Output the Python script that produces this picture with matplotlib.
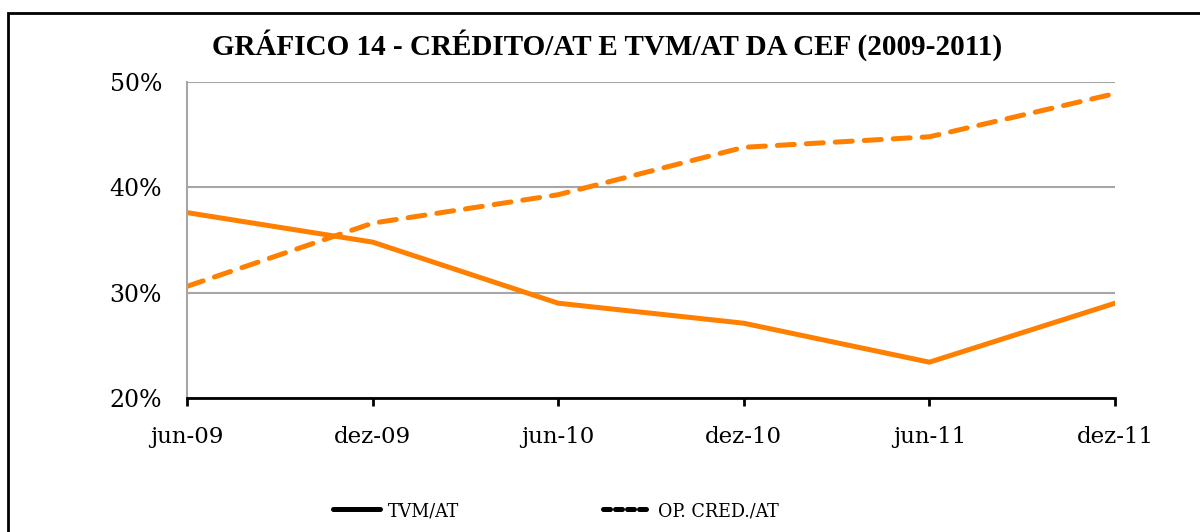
import matplotlib.pyplot as plt
from matplotlib.patches import Rectangle

periods = ["jun-09", "dez-09", "jun-10", "dez-10", "jun-11", "dez-11"]
tvm_at = [37.6, 34.8, 29.0, 27.1, 23.4, 29.0]
op_cred_at = [30.6, 36.6, 39.3, 43.8, 44.8, 48.9]
y_ticks = [20, 30, 40, 50]

ORANGE = "#ff8000"


def main():
  fig = plt.figure(figsize=(12, 5.32), dpi=100)
  ax = fig.add_axes([187 / 1200, 1 - 398 / 532, 928 / 1200, 316 / 532])

  x = list(range(len(periods)))
  ax.plot(x, tvm_at, color=ORANGE, lw=3.6, solid_capstyle="round", label="TVM/AT")
  ax.plot(x, op_cred_at, color=ORANGE, lw=3.6, ls=(0, (3.4, 2.4)),
          dash_capstyle="round", label="OP. CRED./AT")

  ax.set_xlim(0, len(periods) - 1)
  ax.set_ylim(20, 50)
  ax.set_yticks(y_ticks)
  ax.set_yticklabels([f"{v}%" for v in y_ticks])
  ax.set_xticks(x)
  ax.set_xticklabels(periods)
  ax.grid(axis="y", color="#a6a6a6", lw=1.5)
  ax.set_axisbelow(True)
  for s in ["top", "right"]:
    ax.spines[s].set_visible(False)
  ax.spines["left"].set_color("#a6a6a6")
  ax.spines["left"].set_linewidth(1.5)
  ax.spines["bottom"].set_color("black")
  ax.spines["bottom"].set_linewidth(2)
  ax.tick_params(axis="y", length=0, pad=18, labelsize=17)
  ax.tick_params(axis="x", direction="out", length=6, width=2, pad=14, labelsize=16.5)
  for lbl in ax.get_xticklabels() + ax.get_yticklabels():
    lbl.set_fontfamily("DejaVu Serif")

  fig.text(607 / 1200, 1 - 45 / 532, "GRÁFICO 14 - CRÉDITO/AT E TVM/AT DA CEF (2009-2011)",
           ha="center", va="center", fontsize=21, fontweight="bold",
           fontfamily="Liberation Serif")

  # legend in black, as in the original
  h1, = ax.plot([], [], color="black", lw=3.6, solid_capstyle="round")
  h2, = ax.plot([], [], color="black", lw=3.6, ls=(0, (1.4, 1.0)), dash_capstyle="round")
  fig.legend([h1, h2], ["TVM/AT", "OP. CRED./AT"], loc="center",
             bbox_to_anchor=(556 / 1200, 1 - 511 / 532), ncol=2, frameon=False,
             handlelength=2.42, columnspacing=7.4, handletextpad=0.4,
             prop={"family": "DejaVu Serif", "size": 14, "stretch": "condensed"})

  fig.add_artist(Rectangle((8 / 1200, -0.1), 1.2, 1 - 13 / 532 + 0.1,
                           transform=fig.transFigure, fill=False,
                           edgecolor="black", lw=2))

  fig.savefig("out.png", dpi=100)


if __name__ == "__main__":
  main()
